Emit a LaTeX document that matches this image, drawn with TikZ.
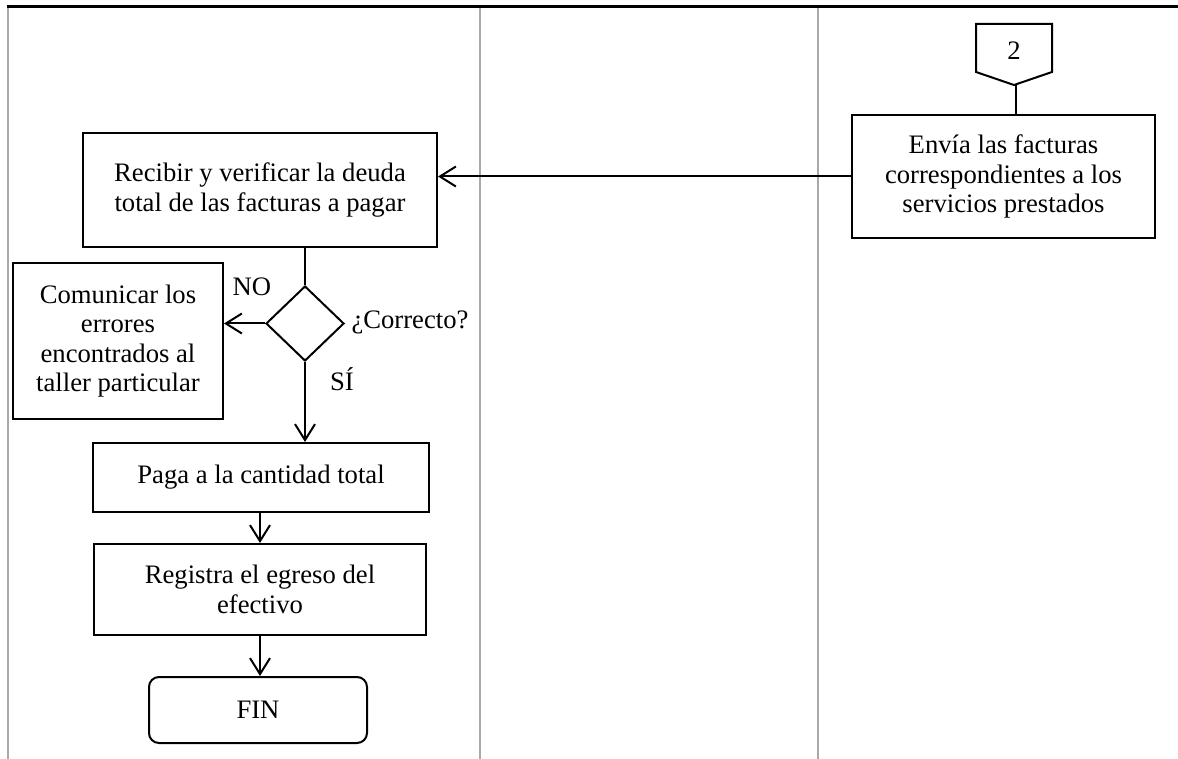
\documentclass[tikz,border=0pt]{standalone}
\usepackage{fontspec}
\setmainfont{Liberation Serif}
\usepackage{xcolor}
\usepackage{tikz}
\usetikzlibrary{arrows.meta,shapes.geometric}
\definecolor{grislinea}{RGB}{172,168,168}

\begin{document}
\begin{tikzpicture}[x=0.75pt,y=-0.75pt,
    caja/.style={draw,line width=1.5pt,align=center,inner sep=0pt,font=\fontsize{20}{22}\selectfont},
    texto/.style={inner sep=0pt,font=\fontsize{20}{22}\selectfont},
    flecha/.style={line width=1.5pt,-{Straight Barb[length=12pt,width=15pt]}},
    linea/.style={line width=0.9pt},
    carril/.style={grislinea,line width=1.5pt}]
    \useasboundingbox (0,0) rectangle (1178,759);
        \draw[carril] (8,7)--(8,759);
        \draw[carril] (480,7)--(480,759);
        \draw[carril] (818,7)--(818,759);
        \draw[line width=2.25pt] (7,7)--(1178,7);
        \draw[line width=1.5pt] (976,24)--(1052,24)--(1052,72)--(1014,85)--(976,72)--cycle;
        \node[texto] (conector) at (1014,51) {2};
        \coordinate (punta) at (1016,85);
        \node[caja,minimum width=227.25pt,minimum height=92.25pt] (envia) at (1003.5,176.5) {Envía las facturas\\correspondientes a los\\servicios prestados};
        \node[caja,minimum width=265.5pt,minimum height=85.5pt] (recibir) at (260,190) {Recibir y verificar la deuda\\total de las facturas a pagar};
        \node[draw,diamond,line width=1.5pt,inner sep=0pt,minimum width=58.5pt,minimum height=56.25pt] (rombo) at (305,323.5) {};
        \node[caja,minimum width=157.5pt,minimum height=117pt] (comunicar) at (118,341) {Comunicar los\\errores\\encontrados al\\taller particular};
        \node[caja,minimum width=252pt,minimum height=51.75pt] (paga) at (261,477.5) {Paga a la cantidad total};
        \node[caja,minimum width=249pt,minimum height=68.25pt] (registra) at (260,589.5) {Registra el egreso del\\efectivo};
        \node[caja,rounded corners=7.5pt,minimum width=163.5pt,minimum height=49.5pt] (fin) at (258,710) {FIN};
        \node[texto] (no) at (252,287) {NO};
        \node[texto] (correcto) at (410,322) {¿Correcto?};
        \node[texto] (si) at (342,379) {SÍ};
        \draw[linea] (punta)--(punta |- envia.north);
        \draw[flecha] (envia.west)--(envia.west -| recibir.east);
        \draw[linea] (rombo.north |- recibir.south)--(rombo.north);
        \draw[flecha] (rombo.west)--(rombo.west -| comunicar.east);
        \draw[flecha] (rombo.south)--(rombo.south |- paga.north);
        \draw[flecha] (registra.north |- paga.south)--(registra.north);
        \draw[flecha] (registra.south)--(registra.south |- fin.north);
    \end{tikzpicture}
\end{document}
